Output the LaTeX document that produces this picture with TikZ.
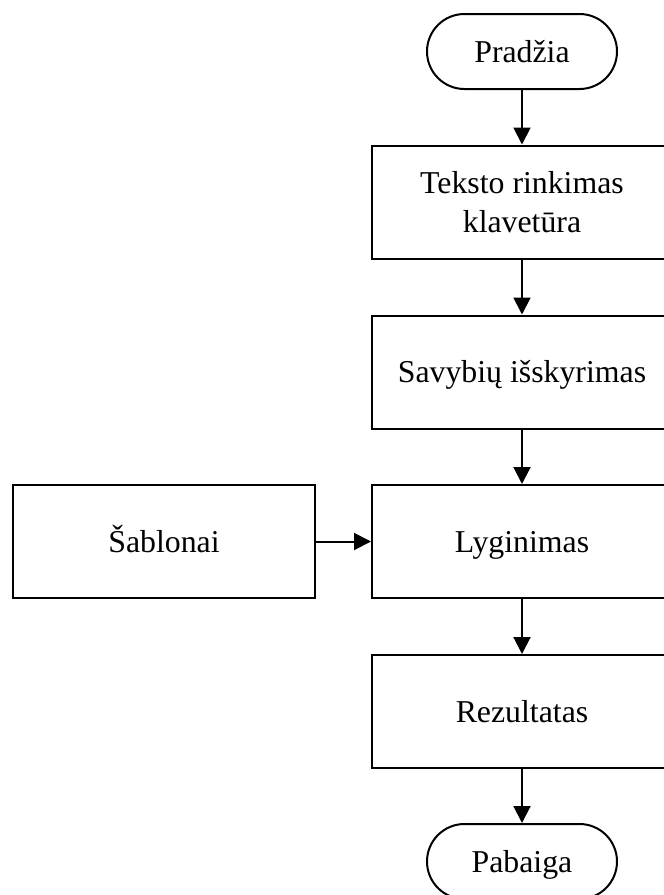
\documentclass[tikz,border=0pt]{standalone}
\usepackage{fontspec}
\setmainfont{Liberation Serif}
\usetikzlibrary{arrows.meta,shapes.misc}
\begin{document}
\begin{tikzpicture}[x=1pt,y=-1pt,
  every node/.style={font=\fontsize{31.8}{39}\selectfont, inner sep=0pt, align=center},
  oneline/.style={text height=21pt, text depth=0pt},
  terminal/.style={draw, line width=2pt, rounded rectangle, oneline, minimum width=190pt, minimum height=75pt},
  stepbox/.style={draw, line width=2pt, rectangle, minimum width=300pt, minimum height=113pt},
  flow/.style={line width=2pt, -{Triangle[width=17pt,length=17pt]}}]
  \useasboundingbox (0,0) rectangle (664,895);
  \clip (0,0) rectangle (664,895);

  % main column of the flowchart
  \node[terminal] (start) at (522,51.5) {Pradžia};
  \node[stepbox] (input) at (522,202) {Teksto rinkimas\\klavetūra};
  \node[stepbox, oneline] (feat) at (522,372) {Savybių išskyrimas};
  \node[stepbox, oneline] (cmp) at (522,541.5) {Lyginimas};
  \node[stepbox, oneline] (res) at (522,711.5) {Rezultatas};
  \node[terminal] (stop) at (522,861.5) {Pabaiga};

  % template store feeding the comparison
  \node[stepbox, oneline, minimum width=302pt] (tmpl) at (164,541.5) {Šablonai};

  \draw[flow] (start) -- (input);
  \draw[flow] (input) -- (feat);
  \draw[flow] (feat) -- (cmp);
  \draw[flow] (cmp) -- (res);
  \draw[flow] (res) -- (stop);
  \draw[flow] (tmpl) -- (cmp);
\end{tikzpicture}
\end{document}
